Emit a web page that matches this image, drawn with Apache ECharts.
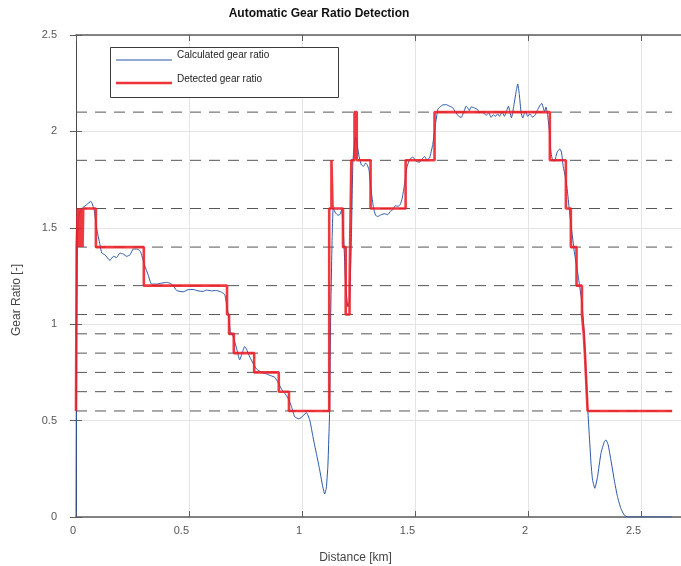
<!DOCTYPE html>
<html>
<head>
<meta charset="utf-8">
<script src="https://cdn.jsdelivr.net/npm/echarts@6/dist/echarts.min.js"></script>
<style>
  html, body { margin: 0; padding: 0; background: #fff; }
  #chart { width: 681px; height: 566px; }
</style>
</head>
<body>
<div id="chart"></div>
<script>
// Ratio computed from engine / wheel speed, as [distance km, ratio]
const calculatedRatio = [
  [0, 0], [0.001, 0.5], [0.003, 1.1], [0.006, 1.45], [0.012, 1.56], [0.020, 1.59], [0.026, 1.6],
  [0.032, 1.606], [0.047, 1.620], [0.066, 1.637], [0.080, 1.594], [0.091, 1.499], [0.106, 1.412],
  [0.114, 1.369], [0.128, 1.360], [0.150, 1.331], [0.165, 1.352], [0.180, 1.346], [0.194, 1.369],
  [0.209, 1.364], [0.224, 1.352], [0.239, 1.360], [0.253, 1.390], [0.268, 1.390], [0.283, 1.381],
  [0.290, 1.360], [0.305, 1.300], [0.319, 1.256], [0.334, 1.208], [0.356, 1.208], [0.379, 1.213],
  [0.401, 1.217], [0.415, 1.213], [0.430, 1.201], [0.445, 1.175], [0.474, 1.168], [0.496, 1.179],
  [0.518, 1.180], [0.540, 1.173], [0.562, 1.170], [0.577, 1.177], [0.599, 1.173], [0.621, 1.175],
  [0.644, 1.166], [0.658, 1.153], [0.668, 1.092], [0.677, 1.023], [0.683, 0.962], [0.695, 0.936],
  [0.710, 0.876], [0.724, 0.815], [0.735, 0.850], [0.746, 0.884], [0.754, 0.871], [0.769, 0.829],
  [0.783, 0.798], [0.798, 0.768], [0.820, 0.751], [0.842, 0.742], [0.864, 0.732], [0.879, 0.725],
  [0.894, 0.698], [0.909, 0.663], [0.923, 0.642], [0.938, 0.616], [0.953, 0.573], [0.967, 0.521],
  [0.986, 0.509], [1.004, 0.524], [1.019, 0.542], [1.034, 0.503], [1.048, 0.417], [1.063, 0.331],
  [1.078, 0.244], [1.090, 0.166], [1.100, 0.119], [1.107, 0.149], [1.114, 0.261], [1.119, 0.434],
  [1.122, 0.555], [1.126, 1.0], [1.133, 1.45], [1.138, 1.603], [1.148, 1.577], [1.159, 1.565],
  [1.169, 1.571], [1.175, 1.594], [1.184, 1.45], [1.193, 1.2], [1.203, 1.090], [1.210, 1.12],
  [1.219, 1.5], [1.225, 1.845], [1.237, 1.97], [1.252, 1.871], [1.262, 1.827], [1.272, 1.819],
  [1.281, 1.836], [1.288, 1.827], [1.296, 1.801], [1.306, 1.689], [1.316, 1.603], [1.325, 1.565],
  [1.335, 1.559], [1.350, 1.568], [1.365, 1.573], [1.379, 1.568], [1.390, 1.585], [1.401, 1.594],
  [1.413, 1.615], [1.424, 1.611], [1.434, 1.620], [1.443, 1.654], [1.453, 1.724], [1.463, 1.810],
  [1.475, 1.853], [1.490, 1.867], [1.505, 1.845], [1.519, 1.840], [1.531, 1.857], [1.542, 1.870],
  [1.552, 1.853], [1.564, 1.862], [1.578, 1.932], [1.590, 2.036], [1.600, 2.113], [1.605, 2.122],
  [1.620, 2.136], [1.637, 2.139], [1.652, 2.131], [1.667, 2.122], [1.678, 2.101], [1.693, 2.078],
  [1.704, 2.073], [1.714, 2.096], [1.726, 2.131], [1.733, 2.122], [1.740, 2.108], [1.748, 2.127],
  [1.762, 2.122], [1.777, 2.113], [1.784, 2.096], [1.796, 2.101], [1.807, 2.091], [1.814, 2.084],
  [1.826, 2.096], [1.836, 2.073], [1.846, 2.087], [1.855, 2.078], [1.865, 2.091], [1.873, 2.078],
  [1.885, 2.101], [1.895, 2.078], [1.905, 2.108], [1.913, 2.131], [1.920, 2.096], [1.926, 2.070],
  [1.935, 2.122], [1.947, 2.208], [1.954, 2.246], [1.961, 2.191], [1.969, 2.096], [1.976, 2.070],
  [1.988, 2.105], [1.998, 2.078], [2.008, 2.091], [2.020, 2.073], [2.032, 2.087], [2.042, 2.113],
  [2.053, 2.136], [2.061, 2.145], [2.067, 2.122], [2.073, 2.101], [2.079, 2.126], [2.086, 2.087],
  [2.094, 2.001], [2.101, 1.888], [2.108, 1.854], [2.116, 1.845], [2.123, 1.871], [2.130, 1.897],
  [2.141, 1.909], [2.148, 1.888], [2.155, 1.819], [2.164, 1.768], [2.173, 1.698], [2.182, 1.594],
  [2.194, 1.473], [2.205, 1.369], [2.217, 1.283], [2.226, 1.213], [2.238, 1.110], [2.248, 0.954],
  [2.256, 0.746], [2.263, 0.573], [2.270, 0.434], [2.278, 0.279], [2.285, 0.192], [2.295, 0.149],
  [2.307, 0.209], [2.322, 0.330], [2.337, 0.391], [2.344, 0.400], [2.354, 0.374], [2.366, 0.296],
  [2.381, 0.192], [2.395, 0.106], [2.410, 0.045], [2.425, 0.010], [2.440, 0], [2.637, 0]
];

// Detected gear: distance where each gear begins, and its ratio
const detectedKm = [
  0, 0.003, 0.008, 0.012, 0.016, 0.020, 0.025, 0.029, 0.032, 0.088, 0.300, 0.668, 0.677, 0.698,
  0.788, 0.897, 0.942, 1.120, 1.130, 1.135, 1.181, 1.193, 1.210, 1.218, 1.232, 1.242, 1.303, 1.458,
  1.586, 2.096, 2.167, 2.189, 2.214, 2.238, 2.246, 2.251, 2.255, 2.259, 2.263, 2.637
];
const detectedRatio = [
  0.55, 1.4, 1.6, 1.4, 1.6, 1.4, 1.6, 1.4, 1.6, 1.4, 1.2, 1.05, 0.95, 0.85,
  0.75, 0.65, 0.55, 1.6, 1.85, 1.6, 1.4, 1.05, 1.2, 1.85, 2.1, 1.85, 1.6, 1.85,
  2.1, 1.85, 1.6, 1.4, 1.2, 1.05, 0.95, 0.85, 0.75, 0.65, 0.55, 0.55
];

// Nominal ratios of the gearbox
const gearLevels = [0.55, 0.65, 0.75, 0.85, 0.95, 1.05, 1.2, 1.4, 1.6, 1.85, 2.1];
const distanceEnd = 2.637;

const FONT = '"Liberation Sans", Arial, Helvetica, sans-serif';
const AXIS_COLOR = '#5e5e5e';
const BLUE = '#2a57a8';
const RED = '#ee1c24';

const chart = echarts.init(document.getElementById('chart'), null, { renderer: 'canvas' });

const gearSeries = gearLevels.map(g => ({
  type: 'line',
  name: 'gear ' + g,
  data: [[0, g], [distanceEnd, g]],
  symbol: 'none',
  silent: true,
  z: 2,
  lineStyle: { color: '#555', width: 1, type: [11, 8] }
}));

const option = {
  backgroundColor: '#fff',
  animation: false,
  textStyle: { fontFamily: FONT },
  grid: { left: 76, top: 35, width: 607, height: 482, outerBoundsMode: 'none', containLabel: false },
  xAxis: [
    {
      type: 'value', min: 0, max: 2.685, interval: 0.5, position: 'bottom',
      axisLine: { show: true, onZero: false, lineStyle: { color: AXIS_COLOR, width: 1.5 } },
      axisTick: { show: true, inside: true, length: 6, lineStyle: { color: AXIS_COLOR } },
      axisLabel: {
        show: true, margin: 8, fontSize: 11, color: '#555', fontFamily: FONT,
        align: 'right', showMaxLabel: false
      },
      splitLine: { show: true, lineStyle: { color: '#e4e4e4', width: 1 } }
    },
    {
      type: 'value', min: 0, max: 2.685, interval: 0.5, position: 'top',
      axisLine: { show: true, onZero: false, lineStyle: { color: AXIS_COLOR, width: 1.5 } },
      axisTick: { show: true, inside: true, length: 6, lineStyle: { color: AXIS_COLOR } },
      axisLabel: { show: false },
      splitLine: { show: false }
    }
  ],
  yAxis: [
    {
      type: 'value', min: 0, max: 2.5, interval: 0.5, position: 'left',
      axisLine: { show: true, onZero: false, lineStyle: { color: '#4a4a4a', width: 1 } },
      axisTick: { show: true, inside: true, length: 6, lineStyle: { color: AXIS_COLOR } },
      axisLabel: {
        show: true, margin: 19, fontSize: 11, color: '#555', fontFamily: FONT,
        padding: [0, 0, 9, 0]
      },
      splitLine: { show: true, lineStyle: { color: '#e4e4e4', width: 1 } }
    },
    {
      type: 'value', min: 0, max: 2.5, interval: 0.5, position: 'right',
      axisLine: { show: false },
      axisTick: { show: true, inside: true, length: 6, lineStyle: { color: AXIS_COLOR } },
      axisLabel: { show: false },
      splitLine: { show: false }
    }
  ],
  series: [
    ...gearSeries,
    {
      type: 'line',
      name: 'Calculated gear ratio',
      data: calculatedRatio,
      symbol: 'none',
      smooth: 0.15,
      z: 3,
      lineStyle: { color: BLUE, width: 1 }
    },
    {
      type: 'line',
      name: 'Detected gear ratio',
      data: detectedKm.map((km, i) => [km, detectedRatio[i]]),
      step: 'end',
      symbol: 'none',
      z: 4,
      lineStyle: { color: RED, width: 2.6, opacity: 0.88 }
    }
  ],
  graphic: [
    {
      type: 'text', x: 319, y: 14, z: 100,
      style: {
        text: 'Automatic Gear Ratio Detection', font: 'bold 12px ' + FONT,
        fill: '#111', align: 'center', verticalAlign: 'middle'
      }
    },
    {
      type: 'text', x: 355.5, y: 558, z: 100,
      style: {
        text: 'Distance [km]', font: '12px ' + FONT,
        fill: '#444', align: 'center', verticalAlign: 'middle'
      }
    },
    {
      type: 'text', x: 17, y: 300, rotation: Math.PI / 2, z: 100,
      style: {
        text: 'Gear Ratio [-]', font: '12px ' + FONT,
        fill: '#444', align: 'center', verticalAlign: 'middle'
      }
    },
    // legend box
    {
      type: 'rect', z: 100, zlevel: 1, shape: { x: 110.5, y: 47.5, width: 228, height: 50 },
      style: { fill: '#fff', stroke: '#3a3a3a', lineWidth: 1 }
    },
    {
      type: 'line', z: 101, zlevel: 1, shape: { x1: 116, y1: 60, x2: 172, y2: 60 },
      style: { stroke: BLUE, lineWidth: 1 }
    },
    {
      type: 'line', z: 101, zlevel: 1, shape: { x1: 116, y1: 83, x2: 172, y2: 83 },
      style: { stroke: RED, lineWidth: 2.6, opacity: 0.9 }
    },
    {
      type: 'text', z: 101, zlevel: 1, x: 177, y: 55,
      style: { text: 'Calculated gear ratio', font: '10px ' + FONT, fill: '#222', verticalAlign: 'middle' }
    },
    {
      type: 'text', z: 101, zlevel: 1, x: 177, y: 79,
      style: { text: 'Detected gear ratio', font: '10px ' + FONT, fill: '#222', verticalAlign: 'middle' }
    }
  ]
};

chart.setOption(option);
</script>
</body>
</html>
